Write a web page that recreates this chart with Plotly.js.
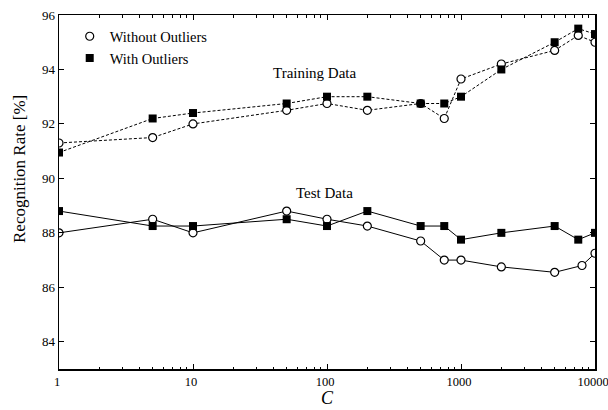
<!DOCTYPE html>
<html>
<head>
<meta charset="utf-8">
<script src="https://cdn.plot.ly/plotly-3.0.1.min.js"></script>
<style>html,body{margin:0;padding:0;background:#fff;}#chart{width:608px;height:410px;}</style>
</head>
<body>
<div id="chart"></div>
<script>
const trainC = [1, 5, 10, 50, 100, 200, 500, 750, 1000, 2000, 5000, 7500, 10000];
const trainWithout = [91.3, 91.5, 92.0, 92.5, 92.75, 92.5, 92.75, 92.2, 93.65, 94.2, 94.7, 95.25, 95.0];
const trainWith = [90.95, 92.2, 92.4, 92.75, 93.0, 93.0, 92.75, 92.75, 93.0, 94.0, 95.0, 95.5, 95.3];
const testCWithout = [1, 5, 10, 50, 100, 200, 500, 750, 1000, 2000, 5000, 8000, 10000];
const testWithout = [88.0, 88.5, 88.0, 88.8, 88.5, 88.25, 87.7, 87.0, 87.0, 86.75, 86.55, 86.8, 87.25];
const testCWith = [1, 5, 10, 50, 100, 200, 500, 750, 1000, 2000, 5000, 7500, 10000];
const testWith = [88.8, 88.25, 88.25, 88.5, 88.25, 88.8, 88.25, 88.25, 87.75, 88.0, 88.25, 87.75, 88.0];
const yTicks = [84, 86, 88, 90, 92, 94, 96];
const xTicks = [1, 10, 100, 1000, 10000];
const legendNames = ["Without Outliers", "With Outliers"];

const minorX = [];
for (let d = 1; d < 10000; d *= 10) for (let k = 2; k <= 9; k++) minorX.push(d * k);

const openCirc = {symbol: 'circle', size: 8, color: '#fff', line: {width: 1.2, color: '#000'}};
const sq = {symbol: 'square', size: 8, color: '#000'};
const dotLine = {color: '#000', width: 1, dash: '3px,2px'};
const solidLine = {color: '#000', width: 1};

const traces = [
  {x: trainC, y: trainWithout, mode: 'lines', line: dotLine, showlegend: false},
  {x: trainC, y: trainWith, mode: 'lines', line: dotLine, showlegend: false},
  {x: testCWithout, y: testWithout, mode: 'lines', line: solidLine, showlegend: false},
  {x: testCWith, y: testWith, mode: 'lines', line: solidLine, showlegend: false},
  {x: trainC, y: trainWithout, mode: 'markers', marker: openCirc, showlegend: false},
  {x: trainC, y: trainWith, mode: 'markers', marker: sq, showlegend: false},
  {x: testCWithout, y: testWithout, mode: 'markers', marker: openCirc, showlegend: false},
  {x: testCWith, y: testWith, mode: 'markers', marker: sq, showlegend: false},
  {x: [null], y: [null], mode: 'markers', name: legendNames[0], marker: openCirc},
  {x: [null], y: [null], mode: 'markers', name: legendNames[1], marker: sq}
];

const layout = {
  width: 608, height: 410,
  margin: {l: 59, r: 13, t: 15, b: 41},
  paper_bgcolor: '#fff', plot_bgcolor: '#fff',
  font: {family: 'Liberation Serif, Times New Roman, serif', color: '#000', size: 13},
  showlegend: true,
  legend: {x: 0.02, y: 0.985, xanchor: 'left', yanchor: 'top', bgcolor: 'rgba(0,0,0,0)', font: {size: 14.5, family: 'Liberation Serif, serif', color: '#000'}, tracegroupgap: 0, itemwidth: 30},
  xaxis: {
    type: 'log', range: [0, 4], tickvals: xTicks, ticktext: xTicks.map(String),
    ticks: 'inside', ticklen: 5, tickwidth: 1, tickcolor: '#000',
    showline: true, linecolor: '#000', linewidth: 1.5, mirror: 'ticks',
    showgrid: false, zeroline: false, ticklabeloverflow: 'allow', ticklabelshift: -2,
    minor: {ticks: 'inside', ticklen: 2.5, tickwidth: 1, tickcolor: '#000', tickvals: minorX, showgrid: false},
    tickfont: {size: 12.5, color: '#000'},
    title: {text: '<i>C</i>', font: {size: 18, color: '#000'}, standoff: 3}
  },
  yaxis: {
    range: [83, 96], tickvals: yTicks,
    ticks: 'inside', ticklen: 5, tickwidth: 1, tickcolor: '#000',
    showline: true, linecolor: '#000', linewidth: 1.5, mirror: 'ticks',
    showgrid: false, zeroline: false,
    tickfont: {size: 13, color: '#000'}
  },
  annotations: [
    {x: -40 / 536, y: 1 - (169 - 15) / 354, xref: 'paper', yref: 'paper', xanchor: 'center', yanchor: 'middle', text: 'Recognition Rate [%]', textangle: -90, showarrow: false, font: {size: 17, color: '#000'}},
    {x: Math.log10(82), y: 93.87, xref: 'x', yref: 'y', text: 'Training Data', showarrow: false, font: {size: 15, color: '#000'}},
    {x: Math.log10(95), y: 89.45, xref: 'x', yref: 'y', text: 'Test Data', showarrow: false, font: {size: 15, color: '#000'}}
  ]
};

Plotly.newPlot('chart', traces, layout, {staticPlot: true, displayModeBar: false});
</script>
</body>
</html>
